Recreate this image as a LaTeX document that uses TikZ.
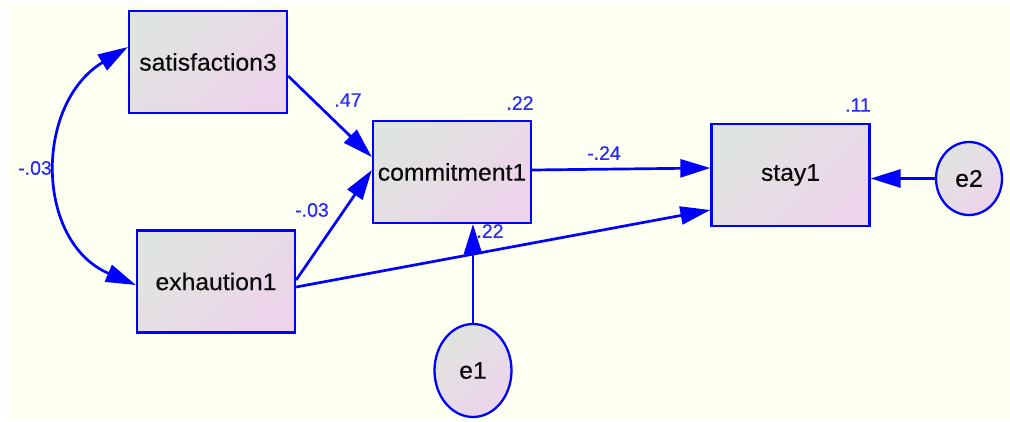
\documentclass[tikz,border=0pt]{standalone}
\usepackage{fontspec}
\setmainfont{Liberation Sans}
\newfontfamily\boxfont[FakeStretch=1.03,FakeBold=0.4]{Liberation Sans}
\newfontfamily\lblfontfam[FakeBold=0.3]{Liberation Sans}
\usetikzlibrary{arrows.meta,shapes.geometric,calc}
\definecolor{bg}{RGB}{253,255,240}
\definecolor{lineblue}{RGB}{0,0,255}
\definecolor{lblblue}{RGB}{40,40,255}
\definecolor{gA}{RGB}{224,228,224}
\definecolor{gB}{RGB}{237,212,235}
\definecolor{txt}{RGB}{10,10,10}
\begin{document}
\begin{tikzpicture}[x=1pt,y=-1pt,
  var/.style={draw=lineblue, line width=2.3pt, top color=gA, bottom color=gB, shading angle=45,
    minimum width=158pt, minimum height=102pt, inner sep=0pt, text=txt,
    font=\boxfont\fontsize{24}{28}\selectfont},
  err/.style={ellipse, draw=lineblue, line width=2.3pt, top color=gA, bottom color=gB, shading angle=45,
    inner sep=0pt, text=txt, font=\boxfont\fontsize{24}{28}\selectfont},
  pth/.style={draw=lineblue, line width=2.7pt, -{Triangle[length=30pt,width=18pt]}},
  lbl/.style={text=lblblue, inner sep=0pt, font=\lblfontfam\fontsize{19.5}{23}\selectfont}]
\useasboundingbox (0,0) rectangle (1010,422);
\fill[white] (0,0) rectangle (1010,422);
\fill[bg] (7,3) rectangle (1010,420);

\node[var] (s3) at (208,62) {satisfaction3};
\node[var] (ex) at (216,281.5) {exhaution1};
\node[var] (c1) at (452,172) {commitment1};
\node[var] (st) at (790.5,175) {stay1};
\node[err, minimum width=77pt, minimum height=93pt] (e1) at (473,370.5) {e1};
\node[err, minimum width=66pt, minimum height=73pt] (e2) at (969,178.5) {e2};

\draw[pth] ([yshift=-14pt]s3.east) -- ([yshift=15pt]c1.west);
\draw[pth] ([yshift=1.5pt]ex.east) -- ([yshift=2pt]c1.west);
\draw[pth] ([yshift=2pt]c1.east) -- ([yshift=7pt]st.west);
\draw[pth] ([yshift=-5.5pt]ex.east) -- ([yshift=-35pt]st.west);
\draw[pth] (e1.north) -- (e1.north |- c1.south);
\draw[pth] (e2.west) -- (e2.west -| st.east);
\draw[pth, {Triangle[length=30pt,width=18pt]}-{Triangle[length=30pt,width=18pt]}]
  ([yshift=15pt]s3.west) .. controls (34,104) and (35,242) .. ([yshift=-3.5pt]ex.west);

\node[lbl] (l47) at (348,100) {.47};
\node[lbl] (l03b) at (312,210) {-.03};
\node[lbl] (l03a) at (35,168) {-.03};
\node[lbl] (l22a) at (520,103) {.22};
\node[lbl] (l24) at (604,153) {-.24};
\node[lbl] (l22b) at (490,231) {.22};
\node[lbl] (l11) at (858,105) {.11};
\end{tikzpicture}
\end{document}
